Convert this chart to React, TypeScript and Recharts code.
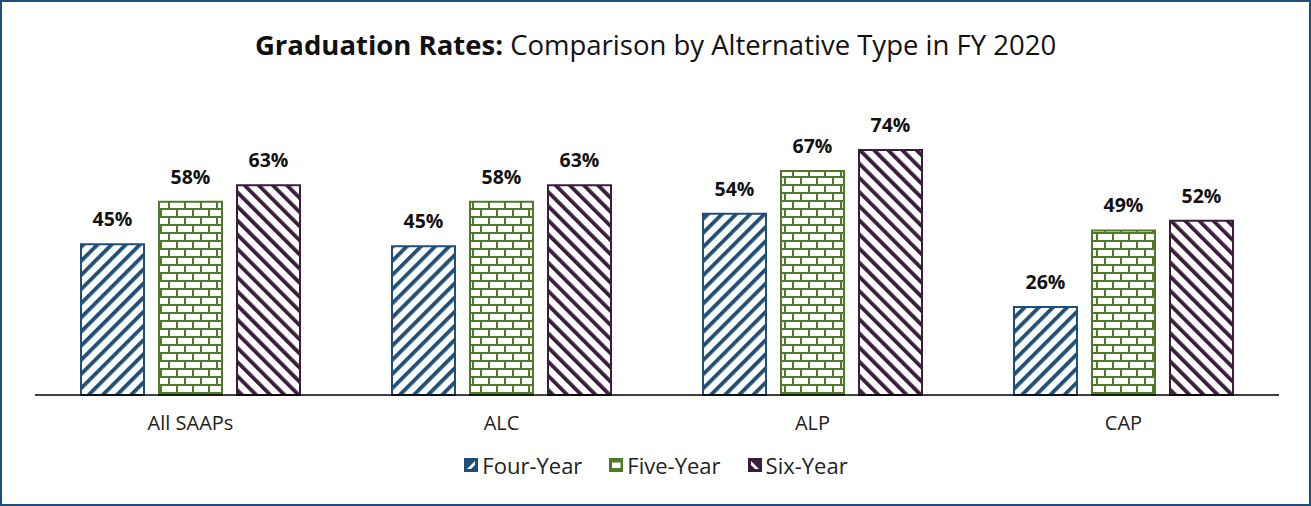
import { BarChart, Bar, XAxis, YAxis, LabelList } from "recharts"

const categories = ["All SAAPs", "ALC", "ALP", "CAP"]
const fourYear = [45.3, 44.7, 54.4, 26.4]
const fiveYear = [58, 58, 67.3, 49.4]
const sixYear = [63, 63, 73.6, 52.3]

const BLUE = "#1f4e79"
const GREEN = "#4f7a28"
const PURPLE = "#3a1d3d"
const FONT = "'Open Sans', 'Noto Sans', sans-serif"

const data = categories.map((name, i) => ({
    name,
    four: fourYear[i],
    five: fiveYear[i],
    six: sixYear[i],
}))

const series = [
    { key: "four", label: "Four-Year", color: BLUE, pattern: "url(#pat-four)" },
    { key: "five", label: "Five-Year", color: GREEN, pattern: "url(#pat-five)" },
    { key: "six", label: "Six-Year", color: PURPLE, pattern: "url(#pat-six)" },
]

function Patterns() {
    return (
        <defs>
            <pattern id="pat-four" width="10" height="10" patternUnits="userSpaceOnUse" patternTransform="rotate(45)">
                <rect width="10" height="10" fill="#fff" />
                <rect x="0" y="0" width="3.8" height="10" fill={BLUE} />
            </pattern>
            <pattern id="pat-six" width="10" height="10" patternUnits="userSpaceOnUse" patternTransform="rotate(-45)">
                <rect width="10" height="10" fill="#fff" />
                <rect x="0" y="0" width="3.8" height="10" fill={PURPLE} />
            </pattern>
            <pattern id="pat-five" width="16" height="16" patternUnits="userSpaceOnUse">
                <rect width="16" height="16" fill="#fff" />
                <rect x="0" y="0" width="16" height="2" fill={GREEN} />
                <rect x="0" y="8" width="16" height="2" fill={GREEN} />
                <rect x="0" y="0" width="2" height="8" fill={GREEN} />
                <rect x="8" y="8" width="2" height="8" fill={GREEN} />
            </pattern>
        </defs>
    )
}

function Legend() {
    return (
        <div
            style={{
                position: "absolute",
                top: 448,
                left: 0,
                width: 1307,
                display: "flex",
                justifyContent: "center",
                gap: 26,
                fontFamily: FONT,
                fontSize: 22,
                lineHeight: "30px",
                color: "#222",
            }}
        >
            {series.map((s) => (
                <div key={s.key} style={{ display: "flex", alignItems: "center", gap: 3 }}>
                    <svg width={16} height={16}>
                        <rect x={1} y={1} width={14} height={14} fill={s.color} />
                        {s.key === "four" && <path d="M4 12 L12 4 L12 8 L8 12 Z" fill="#fff" />}
                        {s.key === "five" && <rect x={4} y={5.5} width={8.5} height={5.5} fill="#fff" />}
                        {s.key === "six" && <path d="M4 4 L12 12 L8 12 L4 8 Z" fill="#fff" />}
                    </svg>
                    <span>{s.label}</span>
                </div>
            ))}
        </div>
    )
}

export default function App() {
    return (
        <div
            style={{
                position: "absolute",
                left: 0,
                top: 0,
                width: 1311,
                height: 506,
                background: "#fff",
                border: `2px solid ${BLUE}`,
                boxSizing: "border-box",
                overflow: "hidden",
            }}
        >
            <div
                style={{
                    position: "absolute",
                    top: 23,
                    left: 0,
                    width: 1307,
                    textAlign: "center",
                    fontFamily: FONT,
                    fontSize: 27.5,
                    lineHeight: "40px",
                    color: "#111",
                }}
            >
                <b>Graduation Rates:</b> Comparison by Alternative Type in FY 2020
            </div>
            <div style={{ position: "absolute", left: -2, top: -2 }}>
                <BarChart
                    width={1311}
                    height={506}
                    data={data}
                    margin={{ top: 62, right: 32, bottom: 81, left: 35 }}
                    barGap={15}
                    barSize={63}
                >
                    <Patterns />
                    <YAxis hide domain={[0, 100]} />
                    <XAxis
                        dataKey="name"
                        axisLine={{ stroke: "#000", strokeWidth: 1.5 }}
                        tickLine={false}
                        tick={{ fill: "#222", fontSize: 20, fontFamily: FONT }}
                        tickMargin={15}
                    />
                    {series.map((s) => (
                        <Bar
                            key={s.key}
                            dataKey={s.key}
                            fill={s.pattern}
                            stroke={s.color}
                            strokeWidth={2}
                            isAnimationActive={false}
                        >
                            <LabelList
                                dataKey={s.key}
                                position="top"
                                offset={18}
                                formatter={(v: number) => `${Math.round(v)}%`}
                                style={{ fill: "#111", fontSize: 19.5, fontWeight: 700, fontFamily: FONT }}
                            />
                        </Bar>
                    ))}
                </BarChart>
            </div>
            <Legend />
        </div>
    )
}
